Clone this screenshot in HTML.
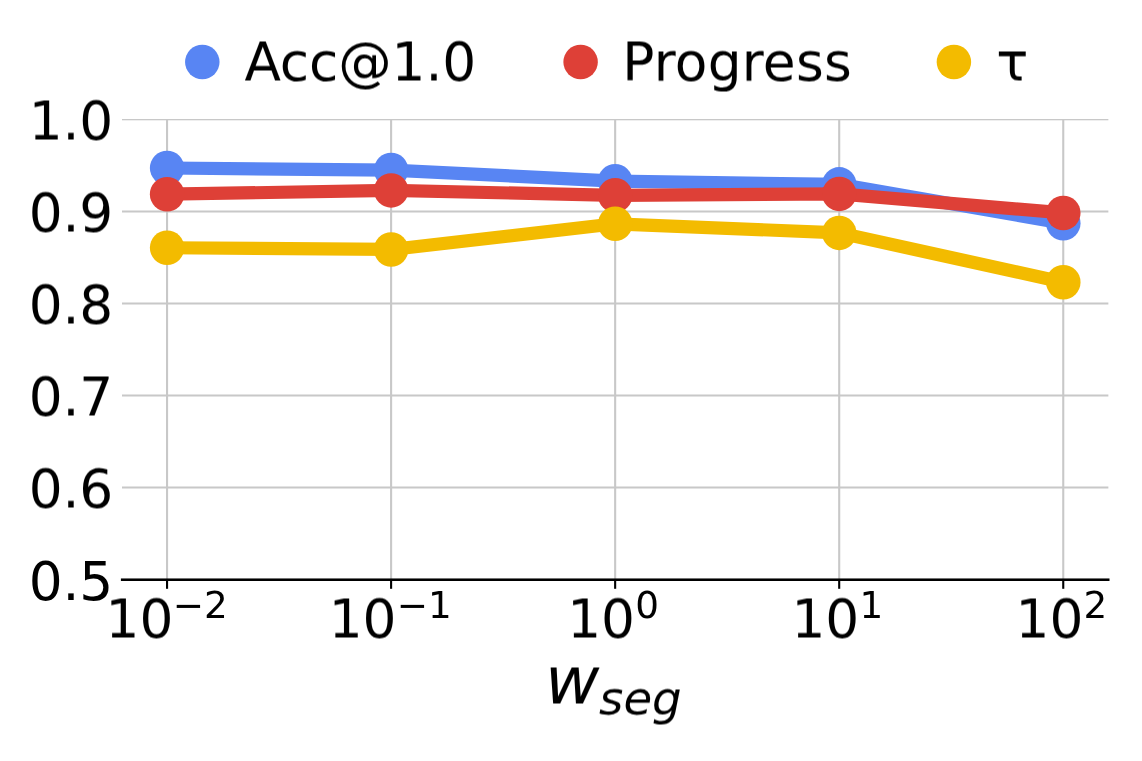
<!DOCTYPE html>
<html lang="en"><head><meta charset="utf-8"><title>w_seg ablation chart</title>
<style>
html,body{margin:0;padding:0;background:#fff;}
body{width:1142px;height:761px;overflow:hidden;}
svg{display:block;}
text{font-family:"DejaVu Sans","Liberation Sans",sans-serif;fill:#000;}
.it{font-style:oblique;}
</style></head><body>
<svg width="1142" height="761" viewBox="0 0 1142 761">
<defs><filter id="hp" x="-5%" y="-20%" width="110%" height="140%" color-interpolation-filters="sRGB"><feConvolveMatrix order="1 2" kernelMatrix="0.5 0.5" targetY="1" edgeMode="none" preserveAlpha="false"/></filter><clipPath id="ax"><rect x="122" y="119" width="986.6" height="461"/></clipPath></defs>
<rect x="0" y="0" width="1142" height="761" fill="#ffffff"/>

<g stroke="#C8C8C8" stroke-width="2.1" fill="none" clip-path="url(#ax)">
<line x1="122" y1="211.5" x2="1108.6" y2="211.5"/>
<line x1="122" y1="303.5" x2="1108.6" y2="303.5"/>
<line x1="122" y1="395.5" x2="1108.6" y2="395.5"/>
<line x1="122" y1="487.5" x2="1108.6" y2="487.5"/>
<rect x="122" y="119" width="986.6" height="1.3" fill="#C8C8C8" stroke="none"/>
<line x1="167.05" y1="119" x2="167.05" y2="579.4"/>
<line x1="391.10" y1="119" x2="391.10" y2="579.4"/>
<line x1="615.15" y1="119" x2="615.15" y2="579.4"/>
<line x1="839.20" y1="119" x2="839.20" y2="579.4"/>
<line x1="1063.25" y1="119" x2="1063.25" y2="579.4"/>
</g>
<polyline points="167.10,168.00 391.15,170.05 615.20,181.15 839.25,184.35 1063.30,223.25" fill="none" stroke="#5885F3" stroke-width="13.2" stroke-linejoin="round" stroke-linecap="butt"/>
<circle cx="167.10" cy="168.00" r="17.25" fill="#5885F3"/><circle cx="391.15" cy="170.05" r="17.25" fill="#5885F3"/><circle cx="615.20" cy="181.15" r="17.25" fill="#5885F3"/><circle cx="839.25" cy="184.35" r="17.25" fill="#5885F3"/><circle cx="1063.30" cy="223.25" r="17.25" fill="#5885F3"/>
<polyline points="167.10,194.20 391.15,190.40 615.20,195.30 839.25,193.90 1063.30,212.95" fill="none" stroke="#DE4037" stroke-width="13.2" stroke-linejoin="round" stroke-linecap="butt"/>
<circle cx="167.10" cy="194.20" r="17.25" fill="#DE4037"/><circle cx="391.15" cy="190.40" r="17.25" fill="#DE4037"/><circle cx="615.20" cy="195.30" r="17.25" fill="#DE4037"/><circle cx="839.25" cy="193.90" r="17.25" fill="#DE4037"/><circle cx="1063.30" cy="212.95" r="17.25" fill="#DE4037"/>
<polyline points="167.10,247.75 391.15,249.45 615.20,223.80 839.25,232.90 1063.30,282.20" fill="none" stroke="#F3BB00" stroke-width="13.2" stroke-linejoin="round" stroke-linecap="butt"/>
<circle cx="167.10" cy="247.75" r="17.25" fill="#F3BB00"/><circle cx="391.15" cy="249.45" r="17.25" fill="#F3BB00"/><circle cx="615.20" cy="223.80" r="17.25" fill="#F3BB00"/><circle cx="839.25" cy="232.90" r="17.25" fill="#F3BB00"/><circle cx="1063.30" cy="282.20" r="17.25" fill="#F3BB00"/>
<rect x="120.9" y="578.45" width="988.6" height="2.55" fill="#000"/>
<g fill="#000">
<rect x="166.00" y="579" width="2.1" height="9.8"/>
<rect x="390.05" y="579" width="2.1" height="9.8"/>
<rect x="614.10" y="579" width="2.1" height="9.8"/>
<rect x="838.15" y="579" width="2.1" height="9.8"/>
<rect x="1062.20" y="579" width="2.1" height="9.8"/>
</g>
<text x="112.9" y="139.0" font-size="53.33" letter-spacing="-0.25" text-anchor="end" filter="url(#hp)">1.0</text>
<text x="112.9" y="231.0" font-size="53.33" letter-spacing="-0.25" text-anchor="end" filter="url(#hp)">0.9</text>
<text x="112.9" y="323.0" font-size="53.33" letter-spacing="-0.25" text-anchor="end" filter="url(#hp)">0.8</text>
<text x="112.9" y="415.0" font-size="53.33" letter-spacing="-0.25" text-anchor="end" filter="url(#hp)">0.7</text>
<text x="112.9" y="507.0" font-size="53.33" letter-spacing="-0.25" text-anchor="end" filter="url(#hp)">0.6</text>
<text x="112.9" y="600.0" font-size="53.33" letter-spacing="-0.25" text-anchor="end">0.5</text>
<text x="105.6" y="637" font-size="53.33" filter="url(#hp)">10</text>
<text x="172.7" y="618" font-size="37.33">−2</text>
<text x="328.7" y="637" font-size="53.33" filter="url(#hp)">10</text>
<text x="396.8" y="618" font-size="37.33">−1</text>
<text x="567.2" y="637" font-size="53.33" filter="url(#hp)">10</text>
<text x="635.2" y="618" font-size="37.33">0</text>
<text x="791.4" y="637" font-size="53.33" filter="url(#hp)">10</text>
<text x="859.5" y="618" font-size="37.33">1</text>
<text x="1015.6" y="637" font-size="53.33" filter="url(#hp)">10</text>
<text x="1083.5" y="618" font-size="37.33">2</text>
<text class="it" x="545.0" y="703" font-size="66.67" filter="url(#hp)">w</text>
<text class="it" x="599.1" y="714" font-size="46.67" filter="url(#hp)">seg</text>
<circle cx="202.3" cy="62" r="17.25" fill="#5885F3"/>
<text x="244.4" y="80" filter="url(#hp)" font-size="53.33" letter-spacing="-0.08">Acc@1.0</text>
<circle cx="580.6" cy="62" r="17.25" fill="#DE4037"/>
<text x="622.3" y="80" filter="url(#hp)" font-size="53.33" letter-spacing="0.27">Progress</text>
<circle cx="953.9" cy="62" r="17.25" fill="#F3BB00"/>
<text x="996.25" y="80" filter="url(#hp)" font-size="53.33">τ</text>
</svg>
</body></html>
